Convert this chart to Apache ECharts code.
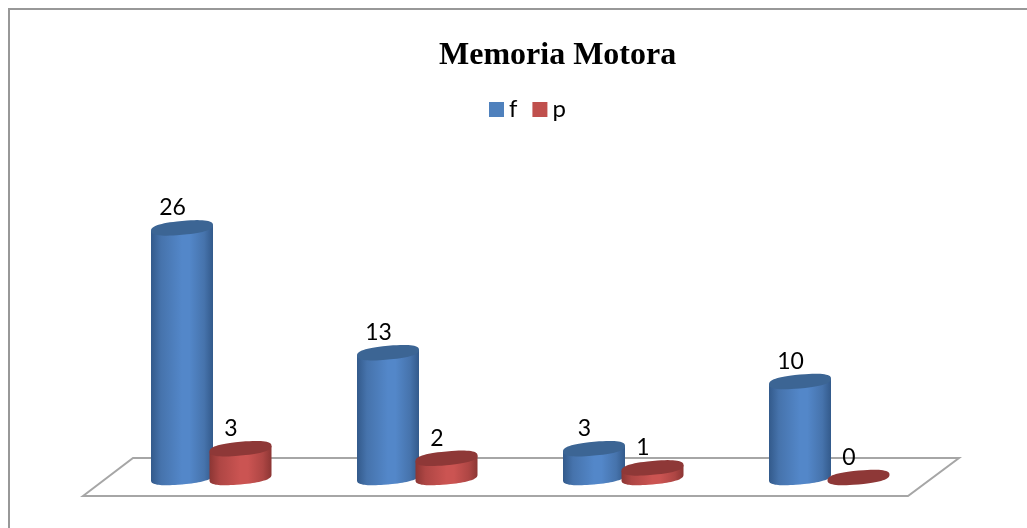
<!DOCTYPE html>
<html><head><meta charset="utf-8">
<style>html,body{margin:0;padding:0;background:#fff}#c{width:1027px;height:528px}</style>
<script src="https://cdn.jsdelivr.net/npm/echarts@6/dist/echarts.min.js"></script>
</head><body><div id="c"></div>
<script>
const categories = ['A','B','C','D'];
const seriesF = [26,13,3,10];
const seriesP = [3,2,1,0];
const titleText = 'Memoria Motora';

const chart = echarts.init(document.getElementById('c'));
const HALF = 31, B = 6.9, K = 0.09, P = 0.8;
function grad(edge, soft, mid){
  return {type:'linear',x:0,y:0,x2:1,y2:0,colorStops:[
    {offset:0,color:edge},{offset:0.16,color:soft},{offset:0.5,color:mid},{offset:0.62,color:mid},{offset:0.86,color:soft},{offset:1,color:edge}]};
}
function pw(c){ return Math.sign(c)*Math.pow(Math.abs(c),P); }
function ell(cx,cy,a,b,from,to,n){
  const pts=[];
  for(let i=0;i<=n;i++){
    const t=from+(to-from)*i/n;
    const ux=pw(Math.cos(t)), uy=pw(Math.sin(t));
    pts.push([cx+a*ux, cy+b*uy-K*a*ux]);
  }
  return pts;
}
function cyl(offset, edge, soft, mid, top){
  return function(params, api){
    const v = api.value(1);
    const base = api.coord([api.value(0),0]);
    const tp = api.coord([api.value(0),v]);
    const cx = base[0]+offset, y0 = base[1], y1 = tp[1];
    const kids=[];
    if(v>0){
      const lower = ell(cx,y0,HALF,B,Math.PI,0,40);
      const body = [[cx-HALF,y1+K*HALF]].concat(lower,[[cx+HALF,y1-K*HALF]]);
      kids.push({type:'polygon',shape:{points:body},style:{fill:grad(edge,soft,mid)}});
    }
    kids.push({type:'polygon',shape:{points:ell(cx,y1,HALF,B,0,Math.PI*2,60)},style:{fill:top}});
    kids.push({type:'text',style:{text:String(v),x:cx-9.5,y:y1-20,align:'center',verticalAlign:'middle',
      font:'23px Lato',fill:'#000'},z2:5});
    return {type:'group',children:kids};
  };
}
chart.setOption({
  animation:false,
  backgroundColor:'#fff',
  title:{text:titleText,left:434,top:35,
    textStyle:{fontFamily:'Liberation Serif',fontWeight:'bold',fontSize:32,color:'#000'}},
  legend:{left:489,top:97.5,padding:0,itemWidth:15,itemHeight:15,itemGap:15,
    textStyle:{fontFamily:'Lato',fontSize:24,color:'#000'},
    data:[{name:'f',icon:'rect'},{name:'p',icon:'rect'}]},
  grid:{left:108,width:824,top:189.5,height:288},
  xAxis:{type:'category',data:categories,show:false},
  yAxis:{type:'value',min:0,max:30,interval:5,show:false},
  graphic:[
    {type:'polyline',z:-2,shape:{points:[[9,528],[9,9],[1027,9]]},style:{fill:'none',stroke:'#989898',lineWidth:2}},
    {type:'polygon',z:-1,shape:{points:[[83,496],[133,458],[959,458],[908,496]]},
     style:{fill:'#fff',stroke:'#a6a6a6',lineWidth:2}}
  ],
  series:[
    {name:'f',type:'custom',coordinateSystem:'cartesian2d',renderItem:cyl(-29,'#335a8b','#4673ac','#5387c9','#3c6594'),
     itemStyle:{color:'#4f81bd'},encode:{x:0,y:1},data:seriesF.map((v,i)=>[i,v])},
    {name:'p',type:'custom',coordinateSystem:'cartesian2d',renderItem:cyl(29.5,'#8c3634','#ae4644','#cb5452','#8e3837'),
     itemStyle:{color:'#c0504d'},encode:{x:0,y:1},data:seriesP.map((v,i)=>[i,v])}
  ]
});
</script></body></html>
